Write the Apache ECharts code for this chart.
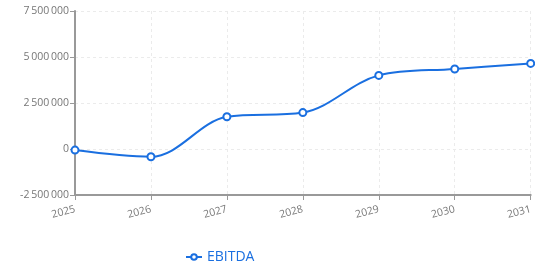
<!DOCTYPE html>
<html><head><meta charset="utf-8">
<script src="https://cdn.jsdelivr.net/npm/echarts@6/dist/echarts.min.js"></script>
<style>html,body{margin:0;padding:0;background:#fff}#c{width:535px;height:264px}</style>
</head><body><div id="c"></div>
<script>
const categories = ['2025','2026','2027','2028','2029','2030','2031'];
const ebitda = [-60000, -420000, 1750000, 1980000, 4000000, 4350000, 4650000];
const seriesName = 'EBITDA';
const yMin = -2500000, yMax = 7500000, yStep = 2500000;

function fmt(v){return String(v).replace(/\B(?=(\d{3})+(?!\d))/g,'\u2009');}
const chart = echarts.init(document.getElementById('c'));
const blue = '#1a6fe0';
chart.setOption({
  animation:false,
  textStyle:{fontFamily:'Open Sans'},
  grid:{left:75,right:1,top:11,bottom:69},
  legend:{data:[seriesName],left:180,top:245,itemWidth:16,itemHeight:7,
    textStyle:{color:blue,fontSize:14,fontFamily:'Open Sans'},itemGap:3},
  xAxis:{type:'category',data:categories,boundaryGap:false,
    axisLine:{onZero:false,lineStyle:{color:'#999',width:2}},
    axisTick:{alignWithLabel:true,length:5,lineStyle:{color:'#999'}},
    axisLabel:{color:'#777',fontSize:10.5,rotate:15,margin:14},
    splitLine:{show:true,lineStyle:{color:'#ebebeb',type:[3,3]}}},
  yAxis:{type:'value',min:yMin,max:yMax,interval:yStep,
    axisLine:{show:true,lineStyle:{color:'#999',width:2}},
    axisTick:{show:true,length:5,lineStyle:{color:'#999'}},
    axisLabel:{color:'#777',fontSize:10.5,margin:6,formatter:fmt},
    splitLine:{show:true,lineStyle:{color:'#ebebeb',type:[3,3]}}},
  series:[{name:seriesName,type:'line',data:ebitda,smooth:0.35,
    symbol:'circle',symbolSize:7,
    lineStyle:{color:blue,width:2},
    itemStyle:{color:'#fff',borderColor:blue,borderWidth:2}}]
});
</script></body></html>
